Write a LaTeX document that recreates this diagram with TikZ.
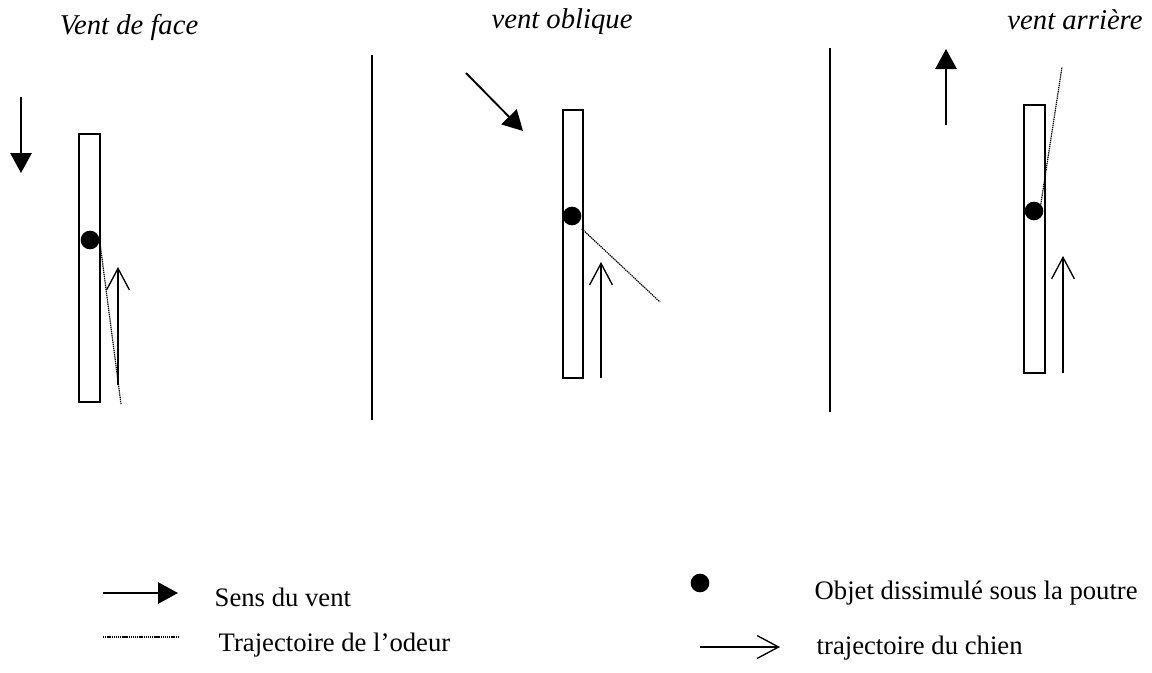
\documentclass[tikz,border=0pt]{standalone}
\usepackage{fontspec}
\setmainfont{Liberation Serif}
\usepackage{tikz}
\usetikzlibrary{arrows.meta,positioning}

\begin{document}
\begin{tikzpicture}[
    x=0.75pt, y=-0.75pt,
    beam/.style={draw=black, line width=1.4pt},
    wind/.style={-{Triangle[length=15pt,width=16pt]}, line width=1.4pt},
    dog/.style={-{Straight Barb[length=16pt,width=17pt]}, line width=1pt},
    odour/.style={line width=0.9pt, dash pattern=on 1pt off 0.6pt},
    object/.style={circle, fill=black, inner sep=0pt, minimum size=14pt},
    title/.style={font=\fontsize{21.5}{26}\selectfont\itshape},
    legend/.style={font=\fontsize{20}{24}\selectfont, anchor=west}
]
\useasboundingbox (0,0) rectangle (1152,672);

% Panel 1: vent de face
\node[title] (t1) at (129,27) {Vent de face};
\coordinate (w1a) at (21,97);
\coordinate (w1b) at (21,173);
\draw[wind] (w1a) -- (w1b);
\draw[beam] (79,134) rectangle (100,402);
\node[object] (o1) at (90,240) {};
\coordinate (s1) at (121,404);
\draw[odour] (o1.east) -- (s1);
\coordinate (d1a) at (118,385);
\coordinate (d1b) at (118,267);
\draw[dog] (d1a) -- (d1b);

% separators
\coordinate (sep1a) at (372,55);
\coordinate (sep1b) at (372,420);
\draw[line width=1.2pt] (sep1a) -- (sep1b);
\coordinate (sep2a) at (830,48);
\coordinate (sep2b) at (830,412);
\draw[line width=1.2pt] (sep2a) -- (sep2b);

% Panel 2: vent oblique
\node[title] (t2) at (562,22) {vent oblique};
\coordinate (w2a) at (466,73);
\coordinate (w2b) at (523,131);
\draw[wind] (w2a) -- (w2b);
\draw[beam] (563,110) rectangle (583,378);
\node[object] (o2) at (572,216) {};
\coordinate (s2) at (660,302);
\draw[odour] (o2.south east) ++(3,6) -- (s2);
\coordinate (d2a) at (601,378);
\coordinate (d2b) at (601,262);
\draw[dog] (d2a) -- (d2b);

% Panel 3: vent arriere
\node[title] (t3) at (1075,20) {vent arrière};
\coordinate (w3a) at (946,125);
\coordinate (w3b) at (946,49);
\draw[wind] (w3a) -- (w3b);
\draw[beam] (1024,105) rectangle (1045,373);
\node[object] (o3) at (1034,211) {};
\coordinate (s3) at (1062,67);
\draw[odour] (o3.north east) -- (s3);
\coordinate (d3a) at (1063,373);
\coordinate (d3b) at (1063,256);
\draw[dog] (d3a) -- (d3b);

% Legend
\node[legend] (l1) at (210,597) {Sens du vent};
\coordinate (l1a) at (103,593);
\draw[wind] (l1a) -- ++(75,0);
\node[legend] (l2) at (214,645) {Trajectoire de l'odeur};
\coordinate (l2a) at (103,637);
\draw[odour] (l2a) -- ++(75,0);
\node[object] (l3o) at (700,583) {};
\node[legend] (l3) at (810,593) {Objet dissimulé sous la poutre};
\coordinate (l4a) at (700,647);
\draw[dog] (l4a) -- ++(80,0);
\node[legend] (l4) at (812,648) {trajectoire du chien};

\end{tikzpicture}
\end{document}
